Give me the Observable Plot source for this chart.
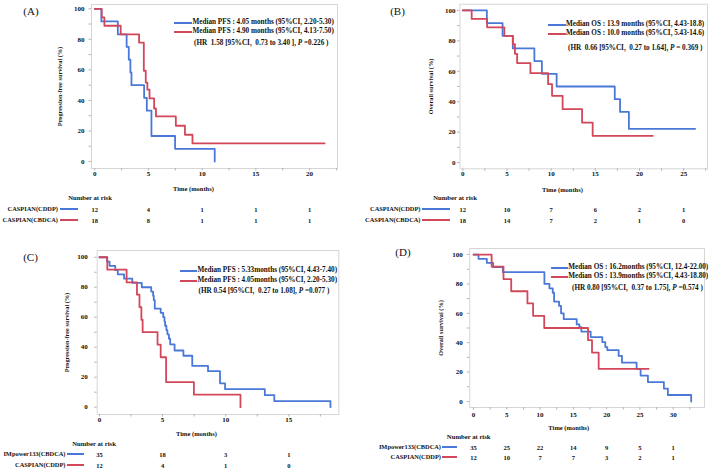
<!DOCTYPE html>
<html><head><meta charset="utf-8">
<script src="https://cdn.jsdelivr.net/npm/d3@7"></script>
<script src="https://cdn.jsdelivr.net/npm/@observablehq/plot@0.6"></script>
<style>
body{margin:0;background:#fff;}
#root{position:relative;width:709px;height:469px;overflow:hidden;background:#fff;font-family:"Liberation Serif","Times New Roman",serif;color:#111;}
#root svg{position:absolute;overflow:visible;}
.t{position:absolute;white-space:pre;line-height:1;transform:translateY(-50%);font-weight:bold;}
.sw{position:absolute;height:2px;transform:translateY(-50%);}
</style></head><body><div id="root"></div>
<script>
// ---------- DATA ----------
const blue = "#4a78d8";
const red = "#d3475a";

// CASPIAN (CDDP) progression-free survival (panel A blue, panel C red)
const cddpPfsTime = [0, 0.62, 2.15, 2.97, 3.17, 3.32, 3.42, 4.6, 4.85, 5.28, 7.48, 11.17];
const cddpPfsSurv = [100, 91.7, 83.3, 75, 66.7, 58.3, 50, 41.7, 33.3, 16.7, 8.3, 0];

// CASPIAN (CBDCA) progression-free survival (panel A red)
const cbdcaPfsTime = [0, 0.65, 0.9, 2.42, 4.13, 4.57, 4.75, 4.9, 5.1, 5.53, 5.7, 7.55, 8.4, 9.1, 21.4];
const cbdcaPfsSurv = [100, 94.4, 88.9, 83.3, 77.8, 59.4, 51.7, 47.0, 41.3, 34.7, 29.5, 23.4, 17.5, 11.8, 11.8];

// CASPIAN (CDDP) overall survival (panel B blue, panel D red)
const cddpOsTime = [0, 2.72, 4.5, 5.66, 8.1, 8.95, 10.62, 17.2, 17.8, 18.8, 26.3];
const cddpOsSurv = [100, 91.7, 83.3, 75, 66.7, 58.3, 50, 41.7, 33.3, 22.2, 22.2];

// CASPIAN (CBDCA) overall survival (panel B red)
const cbdcaOsTime = [0, 1.0, 2.75, 4.7, 5.66, 5.9, 6.15, 7.65, 9.65, 10.1, 11.3, 13.5, 14.7, 21.5];
const cbdcaOsSurv = [100, 94.4, 88.9, 83.3, 77.8, 71.5, 65.4, 58.8, 51.5, 43.9, 35.1, 26.3, 17.5, 17.5];

// IMpower133 (CBDCA) progression-free survival (panel C blue)
const impPfsTime = [0, 0.6, 0.8, 1.25, 1.45, 1.95, 2.6, 3.35, 4.1, 4.25, 4.3, 4.38, 4.85, 5.05, 5.15, 5.2, 5.3, 5.38, 5.5, 5.6, 5.95, 6.65, 7.35, 8.6, 9.55, 9.95, 13.1, 13.85, 18.3];
const impPfsSurv = [100, 97.1, 94.3, 91.4, 88.6, 85.7, 82.9, 80.0, 77.1, 74.3, 71.4, 65.7, 62.9, 60.0, 57.1, 54.3, 51.4, 48.6, 45.7, 41.9, 37.8, 34.3, 27.5, 24.0, 15.9, 12.0, 8.0, 4.0, 0];

// IMpower133 (CBDCA) overall survival (panel D blue)
const impOsTime = [0, 0.75, 2.0, 2.95, 4.4, 10.65, 11.4, 11.9, 12.1, 12.85, 13.15, 13.55, 15.5, 15.9, 16.2, 17.6, 19.35, 19.8, 20.1, 21.8, 22.3, 24.5, 25.1, 26.2, 28.6, 29.2, 32.7];
const impOsSurv = [100, 97.1, 94.3, 91.4, 88.0, 80.0, 77.0, 74.0, 68.0, 65.0, 60.0, 56.0, 52.4, 50.5, 47.6, 43.8, 40.4, 37.0, 35.0, 31.0, 26.5, 22.0, 17.6, 13.2, 8.8, 4.4, 0];

// Tick labels
const yTicks = [0, 20, 40, 60, 80, 100];
const xTicksA = [0, 5, 10, 15, 20];
const xTicksB = [0, 5, 10, 15, 20, 25];
const xTicksC = [0, 5, 10, 15];
const xTicksD = [0, 5, 10, 15, 20, 25, 30];

// Numbers at risk
const riskA_cddp = [12, 4, 1, 1, 1];
const riskA_cbdca = [18, 8, 1, 1, 1];
const riskB_cddp = [12, 10, 7, 6, 2, 1];
const riskB_cbdca = [18, 14, 7, 2, 1, 0];
const riskC_imp = [35, 18, 3, 1];
const riskC_cddp = [12, 4, 1, 0];
const riskD_imp = [35, 25, 22, 14, 9, 5, 1];
const riskD_cddp = [12, 10, 7, 7, 3, 2, 1];

// ---------- PANELS ----------
const panels = [
  {
    letter: "(A)", letterPos: [31, 11],
    left: 0, top: 0, width: 354, height: 230,
    margin: [4, 17, 62, 91],
    xDomain: [-0.3, 22.6], yDomain: [-4.6, 102.8],
    xTicks: xTicksA, xPad: 2.5, yPad: 7,
    yTitle: "Progression-free survival (%)", yTitleDx: -32,
    xTitleDx: 102, xTitleDy: 20,
    curves: [
      {time: cddpPfsTime, surv: cddpPfsSurv, color: blue},
      {time: cbdcaPfsTime, surv: cbdcaPfsSurv, color: red}
    ],
    legend: {sw: [174, 192], rows: [23, 32], tx: 192.5, hrx: 194, hry: 44,
      items: [[blue, "Median PFS : 4.05 months (95%CI, 2.20-5.30)"], [red, "Median PFS : 4.90 months (95%CI, 4.13-7.50)"]],
      hr: "(HR  1.58 [95%CI,  0.73 to 3.40 ], <i>P</i> =0.226 )"},
    risk: {nar: [90, 198], labelEnd: 58, sw: [60, 78], rowsY: [209, 220], dys: [41, 52],
      rows: [["CASPIAN(CDDP)", blue, riskA_cddp], ["CASPIAN(CBDCA)", red, riskA_cbdca]], times: xTicksA}
  },
  {
    letter: "(B)", letterPos: [397.5, 11],
    left: 355, top: 0, width: 354, height: 230,
    margin: [3.7, 2, 61.7, 104.5],
    xDomain: [-0.32, 27.7], yDomain: [-4.1, 104.1],
    xTicks: xTicksB, xPad: 2.5, yPad: 4.5,
    yTitle: "Overall survival (%)", yTitleDx: -29.5,
    xTitleDx: 102.5, xTitleDy: 20.7,
    curves: [
      {time: cddpOsTime, surv: cddpOsSurv, color: blue},
      {time: cbdcaOsTime, surv: cbdcaOsSurv, color: red}
    ],
    legend: {sw: [548, 566], rows: [24.5, 34], tx: 566, hrx: 568, hry: 49,
      items: [[blue, "Median OS : 13.9 months (95%CI, 4.43-18.8)"], [red, "Median OS : 10.0 months (95%CI, 5.43-14.6)"]],
      hr: "(HR  0.66 [95%CI,  0.27 to 1.64], <i>P</i> = 0.369 )"},
    risk: {nar: [455, 198], labelEnd: 420.5, sw: [422, 450], rowsY: [209, 220], dys: [40.7, 51.7],
      rows: [["CASPIAN(CDDP)", blue, riskB_cddp], ["CASPIAN(CBDCA)", red, riskB_cbdca]], times: xTicksB}
  },
  {
    letter: "(C)", letterPos: [30.5, 257],
    left: 0, top: 235, width: 354, height: 234,
    margin: [15, 15.7, 55, 96.7],
    xDomain: [-0.18, 18.96], yDomain: [-4.9, 104.5],
    xTicks: xTicksC, xPad: 3, yPad: 9.4,
    yTitle: "Progression-free survival (%)", yTitleDx: -30.7,
    xTitleDx: 99.3, xTitleDy: 19,
    curves: [
      {time: impPfsTime, surv: impPfsSurv, color: blue},
      {time: cddpPfsTime, surv: cddpPfsSurv, color: red}
    ],
    legend: {sw: [180, 197], rows: [271, 280.5], tx: 197.5, hrx: 198.5, hry: 291.5,
      items: [[blue, "Median PFS : 5.33months (95%CI, 4.43-7.40)"], [red, "Median PFS : 4.05months (95%CI, 2.20-5.30)"]],
      hr: "(HR 0.54 [95%CI,  0.27 to 1.08], <i>P</i> =0.077 )"},
    risk: {nar: [94, 443.7], labelEnd: 65.5, sw: [67, 84], rowsY: [454, 465], dys: [40, 51],
      rows: [["IMpower133(CBDCA)", blue, riskC_imp], ["CASPIAN(CDDP)", red, riskC_cddp]], times: xTicksC}
  },
  {
    letter: "(D)", letterPos: [403, 251.7],
    left: 355, top: 235, width: 354, height: 234,
    margin: [13, 5, 62, 114.3],
    xDomain: [-0.56, 34.7], yDomain: [-4.1, 104.1],
    xTicks: xTicksD, xPad: 5, yPad: 7,
    yTitle: "Overall survival (%)", yTitleDx: -29.3,
    xTitleDx: 99, xTitleDy: 20.7,
    curves: [
      {time: impOsTime, surv: impOsSurv, color: blue},
      {time: cddpOsTime, surv: cddpOsSurv, color: red}
    ],
    legend: {sw: [551, 568], rows: [268.3, 277.3], tx: 568.3, hrx: 572, hry: 288.5,
      items: [[blue, "Median OS : 16.2months (95%CI, 12.4-22.00)"], [red, "Median OS : 13.9months (95%CI, 4.43-18.80)"]],
      hr: "(HR 0.80 [95%CI,  0.37 to 1.75], <i>P</i> =0.574 )"},
    risk: {nar: [468.7, 437], labelEnd: 441, sw: [442, 456.7], rowsY: [447.3, 457.3], dys: [40.3, 50.3],
      rows: [["IMpower133(CBDCA)", blue, riskD_imp], ["CASPIAN(CDDP)", red, riskD_cddp]], times: xTicksD}
  }
];

const root = document.getElementById("root");
function addText(html, x, y, size, opts = {}) {
  const d = document.createElement("div");
  d.className = "t";
  d.innerHTML = html;
  d.style.fontSize = size + "px";
  d.style.top = y + "px";
  if (opts.anchor === "end") { d.style.right = (709 - x) + "px"; }
  else if (opts.anchor === "middle") { d.style.left = x + "px"; d.style.transform = "translate(-50%,-50%)"; }
  else { d.style.left = x + "px"; }
  if (opts.normal) d.style.fontWeight = "normal";
  root.appendChild(d);
}
function addSwatch(x1, x2, y, color) {
  const d = document.createElement("div");
  d.className = "sw";
  d.style.left = x1 + "px";
  d.style.width = (x2 - x1) + "px";
  d.style.top = y + "px";
  d.style.background = color;
  root.appendChild(d);
}

for (const p of panels) {
  const [mt, mr, mb, ml] = p.margin;
  const marks = [
    Plot.frame({stroke: "#d6d6d6", strokeWidth: 1}),
    Plot.axisX({ticks: d3.range(0, p.xDomain[1], 2.5), tickSize: 2.5, tickFormat: () => "", stroke: "#b5b5b5", label: null}),
    Plot.axisX({ticks: p.xTicks, tickSize: 0, tickPadding: p.xPad, fontSize: 7, fontWeight: "bold", label: null}),
    Plot.axisY({ticks: d3.range(0, 101, 10), tickSize: 2.5, tickFormat: () => "", stroke: "#b5b5b5", label: null}),
    Plot.axisY({ticks: yTicks, tickSize: 0, tickPadding: p.yPad, fontSize: 7, fontWeight: "bold", label: null})
  ];
  for (const c of p.curves) {
    marks.push(Plot.line(c.time.map((t, i) => ({t, s: c.surv[i]})),
      {x: "t", y: "s", curve: "step-after", stroke: c.color, strokeWidth: 1.8}));
  }
  marks.push(Plot.text(["Time (months)"], {frameAnchor: "bottom-left", textAnchor: "middle", lineAnchor: "middle",
    dx: p.xTitleDx, dy: p.xTitleDy, fontSize: 6.5, fontWeight: "bold"}));
  marks.push(Plot.text([p.yTitle], {frameAnchor: "left", textAnchor: "middle", lineAnchor: "middle", rotate: -90,
    dx: p.yTitleDx, fontSize: 6.3, fontWeight: "bold"}));
  p.risk.rows.forEach((r, k) => {
    marks.push(Plot.text(p.risk.times.map((t, i) => ({t, n: String(r[2][i])})),
      {x: "t", text: "n", frameAnchor: "bottom", lineAnchor: "middle", dy: p.risk.dys[k], fontSize: 6.5, fontWeight: "bold"}));
  });
  const svg = Plot.plot({
    width: p.width, height: p.height,
    marginTop: mt, marginRight: mr, marginBottom: mb, marginLeft: ml,
    x: {domain: p.xDomain},
    y: {domain: p.yDomain},
    style: {fontFamily: "'Liberation Serif','Times New Roman',serif", background: "transparent", color: "#111", overflow: "visible"},
    marks
  });
  svg.style.left = p.left + "px";
  svg.style.top = p.top + "px";
  root.appendChild(svg);

  // panel letter
  addText(p.letter, p.letterPos[0], p.letterPos[1], 11, {anchor: "middle", normal: true});
  // legend
  const L = p.legend;
  L.items.forEach((it, k) => {
    addSwatch(L.sw[0], L.sw[1], L.rows[k], it[0]);
    addText(it[1], L.tx, L.rows[k], 7.2);
  });
  addText(L.hr, L.hrx, L.hry, 7.2);
  // risk table labels
  const R = p.risk;
  addText("Number at risk", R.nar[0], R.nar[1], 6.7, {anchor: "middle"});
  R.rows.forEach((r, k) => {
    addText(r[0], R.labelEnd, R.rowsY[k], 6.4, {anchor: "end"});
    addSwatch(R.sw[0], R.sw[1], R.rowsY[k], r[1]);
  });
}
</script></body></html>
